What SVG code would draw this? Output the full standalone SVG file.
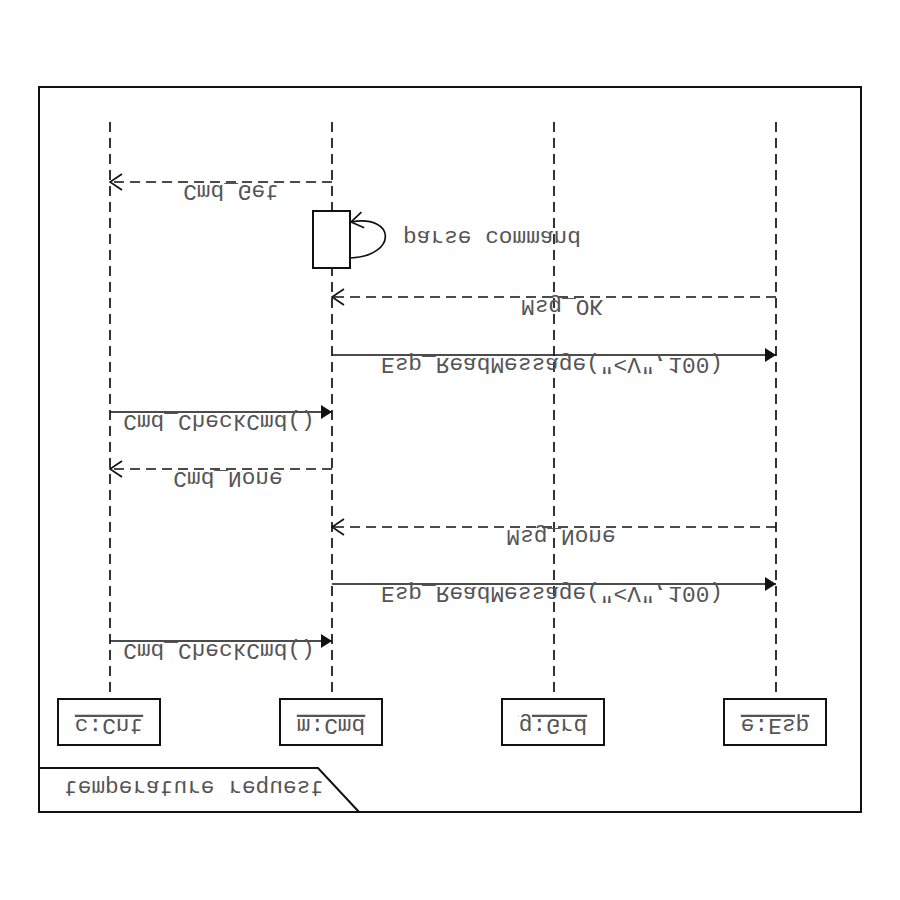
<svg xmlns="http://www.w3.org/2000/svg" width="900" height="900" viewBox="0 0 900 900">
  <style>
    .t { font-family: "Liberation Mono", "DejaVu Sans Mono", monospace; font-size: 22.8px; fill: #555; text-anchor: middle; }
    .u { text-decoration: underline; }
    .frame { fill: none; stroke: #111; stroke-width: 2; }
    .box { fill: #fff; stroke: #111; stroke-width: 2; }
    .life { stroke: #111; stroke-width: 1.7; stroke-dasharray: 10 6; fill: none; }
    .call { stroke: #111; stroke-width: 1.7; fill: none; marker-end: url(#filled); }
    .ret { stroke: #111; stroke-width: 1.7; stroke-dasharray: 10 6; fill: none; marker-end: url(#open); }
  </style>
  <defs>
    <marker id="open" viewBox="0 0 14 18" refX="13" refY="9" markerWidth="14" markerHeight="18" markerUnits="userSpaceOnUse" orient="auto">
      <path d="M1,1 L13,9 L1,17" fill="none" stroke="#111" stroke-width="1.7"/>
    </marker>
    <marker id="filled" viewBox="0 0 12 14" refX="11" refY="7" markerWidth="12" markerHeight="14" markerUnits="userSpaceOnUse" orient="auto">
      <path d="M0,0 L11,7 L0,14 z" fill="#111"/>
    </marker>
  </defs>

  <rect width="900" height="900" fill="#fff"/>

  <!-- sequence frame with its name tab -->
  <g id="frame">
    <rect class="frame" x="39" y="87" width="822" height="725"/>
    <polyline class="frame" points="39,768 318,768 359,812"/>
    <text class="t" transform="translate(194,781) scale(1,-1)">temperature request</text>
  </g>

  <!-- participants: lifeline plus head box -->
  <g id="cnt">
    <line class="life" x1="110" y1="122" x2="110" y2="699"/>
    <rect class="box" x="58" y="699" width="102" height="46"/>
    <text class="t u" transform="translate(109,719) scale(1,-1)">c:Cnt</text>
  </g>
  <g id="cmd">
    <line class="life" x1="332" y1="122" x2="332" y2="699"/>
    <rect class="box" x="280" y="699" width="102" height="46"/>
    <text class="t u" transform="translate(331,719) scale(1,-1)">m:Cmd</text>
  </g>
  <g id="grd">
    <line class="life" x1="554" y1="122" x2="554" y2="699"/>
    <rect class="box" x="502" y="699" width="102" height="46"/>
    <text class="t u" transform="translate(553,719) scale(1,-1)">g:Grd</text>
  </g>
  <g id="esp">
    <line class="life" x1="776" y1="122" x2="776" y2="699"/>
    <rect class="box" x="724" y="699" width="102" height="46"/>
    <text class="t u" transform="translate(775,719) scale(1,-1)">e:Esp</text>
  </g>

  <!-- activation on m:Cmd -->
  <g id="activation">
    <rect class="box" x="313" y="211" width="37" height="57"/>
  </g>

  <!-- messages -->
  <g id="connectors">
    <line class="ret" x1="332" y1="182" x2="110" y2="182"/>
    <text class="t" transform="translate(231,185) scale(1,-1)">Cmd_Get</text>

    <path d="M350,258 C398,256 396,214 351,222" fill="none" stroke="#111" stroke-width="1.7" marker-end="url(#open)"/>
    <text class="t" transform="translate(492,231) scale(1,-1)">parse command</text>

    <line class="ret" x1="776" y1="297" x2="332" y2="297"/>
    <text class="t" transform="translate(562,300) scale(1,-1)">Msg_OK</text>

    <line class="call" x1="332" y1="355" x2="776" y2="355"/>
    <text class="t" transform="translate(552,358) scale(1,-1)">Esp_ReadMessage("&lt;V",100)</text>

    <line class="call" x1="110" y1="412" x2="332" y2="412"/>
    <text class="t" transform="translate(219,415) scale(1,-1)">Cmd_CheckCmd()</text>

    <line class="ret" x1="332" y1="469" x2="110" y2="469"/>
    <text class="t" transform="translate(228,472) scale(1,-1)">Cmd_None</text>

    <line class="ret" x1="776" y1="527" x2="332" y2="527"/>
    <text class="t" transform="translate(561,530) scale(1,-1)">Msg_None</text>

    <line class="call" x1="332" y1="584" x2="776" y2="584"/>
    <text class="t" transform="translate(552,587) scale(1,-1)">Esp_ReadMessage("&lt;V",100)</text>

    <line class="call" x1="110" y1="641" x2="332" y2="641"/>
    <text class="t" transform="translate(219,644) scale(1,-1)">Cmd_CheckCmd()</text>
  </g>
</svg>
